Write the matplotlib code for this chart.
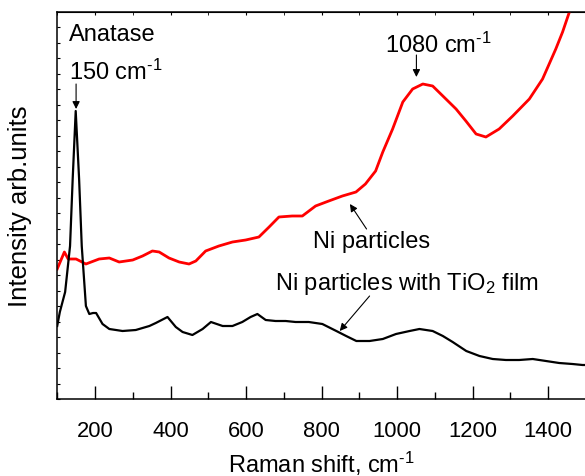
import matplotlib
matplotlib.use('Agg')
import matplotlib.pyplot as plt
from matplotlib.ticker import MultipleLocator

plt.rcParams['font.family'] = ['Liberation Sans', 'DejaVu Sans']
plt.rcParams['mathtext.fontset'] = 'custom'
plt.rcParams['mathtext.rm'] = 'Liberation Sans'
plt.rcParams['mathtext.default'] = 'regular'

# Ni particles with TiO2 film (black)
film_x = [100, 107, 121, 134, 141, 149, 158, 165, 176, 185, 195, 203, 220,
          238, 273, 308, 344, 361, 392, 414, 432, 458, 485, 507, 538, 564,
          590, 612, 630, 652, 678, 705, 731, 766, 802, 839, 865, 892, 927,
          962, 997, 1033, 1059, 1094, 1121, 1147, 1183, 1218, 1253, 1288,
          1323, 1359, 1394, 1429, 1464, 1491, 1500]
film_y = [73, 87, 107, 153, 220, 288, 220, 153, 93, 85, 86, 86, 75,
          70, 68, 69, 73, 76, 82, 72, 67, 64, 70, 77, 73, 73,
          77, 82, 85, 79, 78, 78, 77, 77, 75, 68, 63, 58, 58,
          60, 65, 68, 70, 68, 63, 57, 48, 43, 40, 39,
          39, 40, 38, 36, 35, 34, 34]

# Ni particles (red)
ni_x = [100, 119, 129, 150, 176, 211, 238, 264, 300, 326, 352, 370, 396,
        423, 449, 467, 493, 528, 564, 599, 634, 661, 687, 722, 749, 784,
        819, 855, 891, 916, 943, 962, 988, 1015, 1041, 1068, 1094, 1121,
        1156, 1182, 1209, 1235, 1270, 1306, 1350, 1385, 1420, 1438, 1456,
        1475]
ni_y = [130, 147, 140, 140, 135, 140, 141, 137, 139, 143, 148, 147, 141,
        137, 135, 138, 148, 153, 157, 159, 162, 172, 182, 183, 183, 193,
        198, 203, 207, 215, 228, 247, 270, 297, 310, 315, 313, 303,
        290, 278, 265, 262, 270, 283, 300, 320, 350, 367, 387,
        410]

fig = plt.figure(figsize=(5.85, 4.77), dpi=100)
ax = fig.add_axes([57.2 / 585, 77 / 477, 528.8 / 585, 387.4 / 477])

ax.plot(ni_x, ni_y, color='#ff0000', lw=2.0)
ax.plot(film_x, film_y, color='black', lw=1.6)

ax.set_xlim(100, 1500)
ax.set_ylim(0, 387.4)

ax.xaxis.set_major_locator(MultipleLocator(200))
ax.xaxis.set_minor_locator(MultipleLocator(100))
ax.yaxis.set_major_locator(MultipleLocator(15.5))
ax.tick_params(axis='x', which='major', direction='in', length=9.5,
               width=1, labelsize=15.8, pad=15)
ax.tick_params(axis='x', which='minor', direction='in', length=5, width=1)
ax.tick_params(axis='y', which='major', direction='in', length=2.5,
               width=0.8, labelleft=False)
for s in ax.spines.values():
    s.set_linewidth(1.1)

top = ax.secondary_xaxis('top')
top.xaxis.set_major_locator(MultipleLocator(200))
top.xaxis.set_minor_locator(MultipleLocator(100))
top.tick_params(which='both', direction='in', length=2, labeltop=False)

cm = r'cm$^{\text{-1}}$'
ax.set_xlabel('Raman shift, ' + cm, fontsize=17, labelpad=6)
ax.set_ylabel('Intensity arb.units', fontsize=18.5, labelpad=18)

ax.text(247, 365, 'Anatase', fontsize=17, ha='center', va='center')
ax.text(255, 328, '150 ' + cm, fontsize=17, ha='center', va='center')
ax.text(1109, 355, '1080 ' + cm, fontsize=17, ha='center', va='center')
ax.text(931, 158, 'Ni particles', fontsize=17, ha='center', va='center')
ax.text(1026, 116, 'Ni particles with TiO$_2$ film', fontsize=17,
        ha='center', va='center')

arrow = dict(arrowstyle='-|>', color='black', lw=0.8, mutation_scale=11,
             shrinkA=0, shrinkB=0)
ax.annotate('', xy=(150, 290), xytext=(150, 315), arrowprops=arrow)
ax.annotate('', xy=(1051, 322), xytext=(1051, 344), arrowprops=arrow)
ax.annotate('', xy=(875, 195), xytext=(919, 170), arrowprops=arrow)
ax.annotate('', xy=(848, 68), xytext=(927, 103), arrowprops=arrow)

fig.savefig('out.png', dpi=100)
